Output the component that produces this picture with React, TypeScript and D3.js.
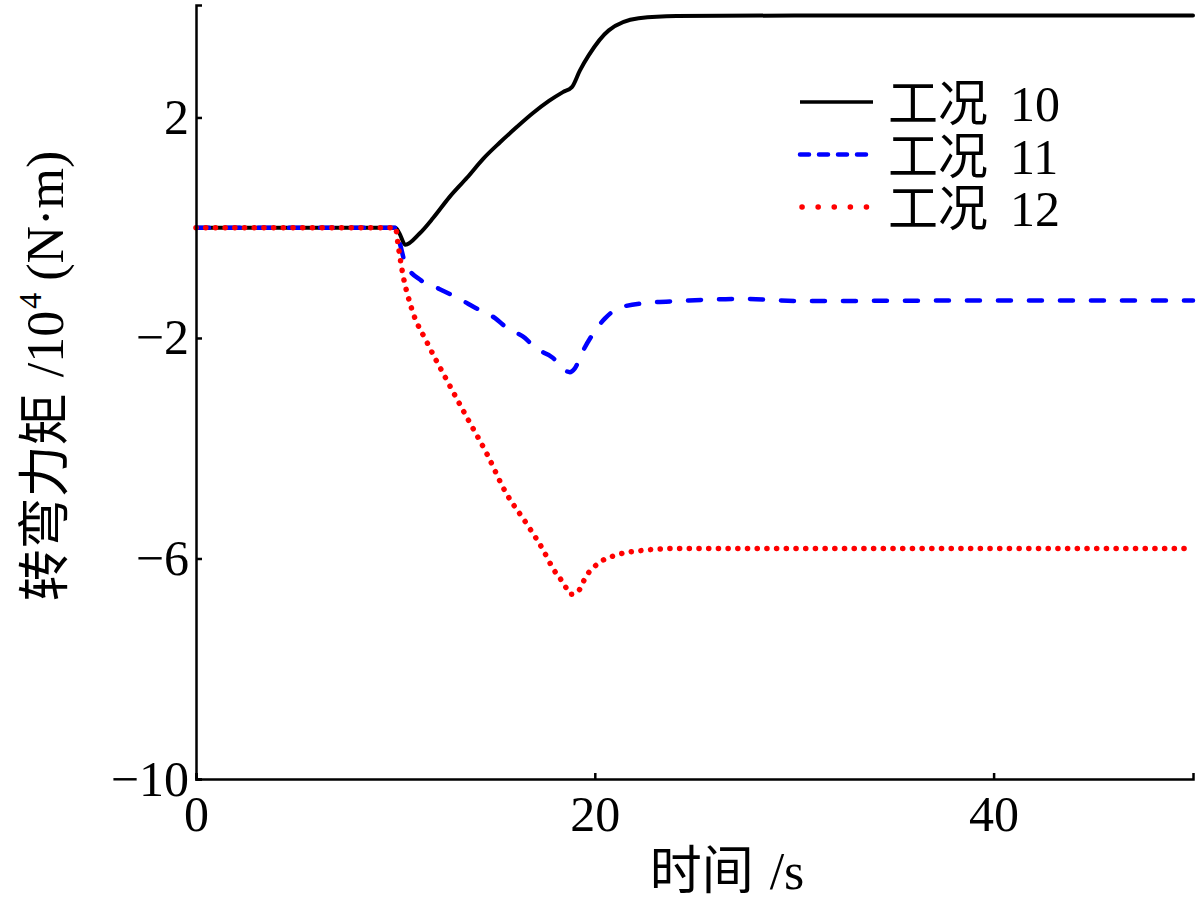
import { useEffect, useRef } from "react";
import * as d3 from "d3";

// time (s) and torque values (x10^4 N·m)
const t10 = [0, 10, 10.2, 10.5, 11.2, 11.9, 12.7, 13.6, 14.4, 15.25, 16.1, 16.9, 17.7, 18.4, 18.85, 19.25, 19.7, 20.7, 22.2, 24.1, 30, 40, 50];
const v10 = [0, 0, -0.1, -0.31, -0.11, 0.18, 0.55, 0.91, 1.25, 1.55, 1.83, 2.08, 2.3, 2.46, 2.55, 2.85, 3.13, 3.58, 3.8, 3.84, 3.85, 3.85, 3.85];

const t11 = [0, 10, 10.2, 10.5, 11.3, 12.2, 13.2, 14, 15, 15.6, 16.5, 17, 17.9, 18.4, 18.75, 19, 19.4, 19.9, 20.5, 21.25, 22.75, 24.25, 27.3, 30.3, 40, 50];
const v11 = [0, 0, -0.25, -0.65, -0.96, -1.11, -1.29, -1.45, -1.64, -1.82, -2.0, -2.18, -2.36, -2.56, -2.62, -2.55, -2.24, -1.93, -1.65, -1.45, -1.36, -1.33, -1.29, -1.33, -1.32, -1.32];

const t12 = [0, 10, 10.15, 10.35, 10.8, 11.6, 12.6, 13.6, 14.6, 15.5, 16.6, 17.4, 17.9, 18.5, 18.75, 19.1, 19.6, 20.25, 21.15, 22.5, 23.9, 30, 40, 50];
const v12 = [0, 0, -0.35, -0.8, -1.45, -2.09, -2.78, -3.45, -4.11, -4.78, -5.38, -5.84, -6.18, -6.49, -6.65, -6.62, -6.3, -6.07, -5.93, -5.85, -5.82, -5.82, -5.82, -5.82];

const seriesNames = ["工况", "工况", "工况"];
const seriesNums = ["10", "11", "12"];
const xTicks = [0, 20, 40];
const yTicks = [2, -2, -6, -10];

const FONT = "'Liberation Serif', 'Noto Sans CJK SC', serif";

export default function App() {
  const ref = useRef<SVGSVGElement>(null);

  useEffect(() => {
    const svg = d3.select(ref.current);
    svg.selectAll("*").remove();

    const x = d3.scaleLinear().domain([0, 50]).range([196, 1193]);
    const y = d3.scaleLinear().domain([-10, 4.04]).range([779, 5]);

    const styles = [
      { color: "#000000", width: 4, dash: null as string | null },
      { color: "#0000ff", width: 4.5, dash: "13 18" },
      { color: "#ff0000", width: 5.5, dash: "0.1 9.6" },
    ];
    const legendDash = [null, "9 10", "0.1 16"];

    const data = [
      t10.map((t, i) => [t, v10[i]] as [number, number]),
      t11.map((t, i) => [t, v11[i]] as [number, number]),
      t12.map((t, i) => [t, v12[i]] as [number, number]),
    ];

    const line = d3
      .line<[number, number]>()
      .x((d) => x(d[0]))
      .y((d) => y(d[1]))
      .curve(d3.curveMonotoneX);

    // black first, then blue, red on top (as in the flat section)
    [0, 1, 2].forEach((i) => {
      const s = styles[i];
      svg
        .append("path")
        .datum(data[i])
        .attr("d", line)
        .attr("fill", "none")
        .attr("stroke", s.color)
        .attr("stroke-width", s.width)
        .attr("stroke-linecap", "round")
        .attr("stroke-linejoin", "round")
        .attr("stroke-dasharray", s.dash);
    });

    // axes, ticks pointing inward
    const xAxis = d3.axisBottom(x).tickValues(xTicks).tickSize(-6).tickSizeOuter(-6).tickPadding(16);
    const gx = svg.append("g").attr("transform", "translate(0,779)").call(xAxis);
    const yAxis = d3.axisLeft(y).tickValues(yTicks).tickSize(-6).tickSizeOuter(-6).tickPadding(7);
    const gy = svg.append("g").attr("transform", "translate(196,0)").call(yAxis);

    [gx, gy].forEach((g) => {
      g.select(".domain").attr("stroke-width", 2.5);
      g.selectAll(".tick line").attr("stroke-width", 2.5);
      g.selectAll(".tick text")
        .attr("font-family", FONT)
        .attr("font-size", 50)
        .attr("fill", "#000");
    });

    // axis titles
    const xl = svg
      .append("text")
      .attr("x", 727)
      .attr("y", 889)
      .attr("text-anchor", "middle")
      .attr("font-family", FONT)
      .attr("font-size", 52);
    xl.append("tspan").text("时间");
    xl.append("tspan").attr("dx", 16).text("/s");

    const yl = svg
      .append("text")
      .attr("transform", "translate(63,376) rotate(-90)")
      .attr("text-anchor", "middle")
      .attr("font-family", FONT)
      .attr("font-size", 52);
    yl.append("tspan").text("转弯力矩");
    yl.append("tspan").attr("dx", 16).text("/10");
    yl.append("tspan").attr("font-size", 32).attr("dy", -22).attr("dx", 2).text("4");
    yl.append("tspan").attr("dy", 22).attr("dx", 12).text("(N·m)");

    // legend
    const lg = svg.append("g");
    seriesNums.forEach((n, i) => {
      const cy = 102 + i * 52.5;
      lg.append("line")
        .attr("x1", i === 2 ? 802 : 800)
        .attr("x2", 873)
        .attr("y1", cy)
        .attr("y2", cy)
        .attr("stroke", styles[i].color)
        .attr("stroke-width", i === 0 ? 3.5 : styles[i].width)
        .attr("stroke-linecap", i === 0 ? "butt" : "round")
        .attr("stroke-dasharray", legendDash[i]);
      lg.append("text")
        .attr("x", 888)
        .attr("y", cy + 19)
        .attr("font-family", FONT)
        .attr("font-size", 50)
        .text(seriesNames[i]);
      lg.append("text")
        .attr("x", 1010)
        .attr("y", cy + 19)
        .attr("font-family", FONT)
        .attr("font-size", 50)
        .text(n);
    });
  }, []);

  return (
    <svg
      ref={ref}
      width={1200}
      height={902}
      style={{ position: "absolute", left: 0, top: 0, background: "#fff" }}
    />
  );
}
